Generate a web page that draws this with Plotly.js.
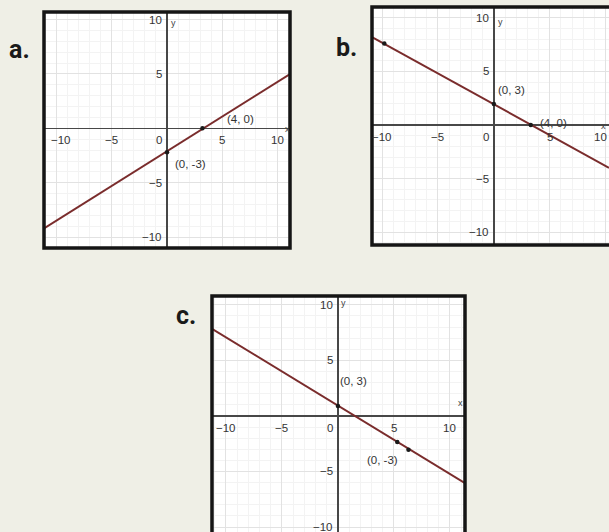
<!DOCTYPE html>
<html>
<head>
<meta charset="utf-8">
<script src="https://cdn.plot.ly/plotly-3.0.1.min.js"></script>
<style>
  html, body { margin: 0; padding: 0; background: #efefe6; }
  #chart { width: 609px; height: 532px; }
</style>
</head>
<body>
<div id="chart"></div>
<script>
// tick values shared by the three graphs
const xTicks = [-10, -5, 0, 5, 10]
const yTicks = [-10, -5, 5, 10]

// graph a
const lineAx = [-11.1, 11.1]
const lineAy = [-9.2, 5.0]
const dotsAx = [0, 3.2]
const dotsAy = [-2.2, 0]
const labelsA = ["(4, 0)", "(0, -3)"]
const labelsAx = [6.6, 2.1]
const labelsAy = [0.85, -3.25]

// graph b
const lineBx = [-10.9, 10.3]
const lineBy = [8.2, -4.0]
const dotsBx = [-9.8, 0, 3.3]
const dotsBy = [7.6, 1.95, 0]
const labelsB = ["(0, 3)", "(4, 0)"]
const labelsBx = [1.6, 5.3]
const labelsBy = [3.25, 0.2]

// graph c
const lineCx = [-11.25, 11.35]
const lineCy = [7.85, -6.05]
const dotsCx = [0, 5.3, 6.3]
const dotsCy = [0.9, -2.35, -3.05]
const labelsC = ["(0, 3)", "(0, -3)"]
const labelsCx = [1.35, 3.95]
const labelsCy = [3.15, -3.95]

const W = 609
const H = 532
const lineColor = "#7a2c2c"

// plot boxes in pixels: [left, right, top, bottom] and the data ranges inside them
const panels = [
  { box: [44, 290, 12, 248], xr: [-11.1, 11.1], yr: [-11.0, 10.7] },
  { box: [372, 616, 7, 245], xr: [-10.9, 10.3], yr: [-11.2, 11.0] },
  { box: [212, 465, 296, 537], xr: [-11.25, 11.35], yr: [-10.45, 10.8] },
]

const px = (x) => x / W
const py = (y) => 1 - y / H

function tickFont() {
  return { family: "Liberation Sans, Arial, sans-serif", size: 11.5, color: "#333333" }
}

function axis(range, domain, anchor) {
  return {
    range: range,
    domain: domain,
    anchor: anchor,
    tick0: 0,
    dtick: 5,
    showgrid: true,
    gridcolor: "#e2e2e2",
    gridwidth: 1,
    minor: { dtick: 1, showgrid: true, gridcolor: "#f3f3f3", gridwidth: 1 },
    zeroline: true,
    zerolinecolor: "#484848",
    zerolinewidth: 1.5,
    showticklabels: false,
    ticks: "",
    showline: false,
    fixedrange: true,
  }
}

const layout = {
  width: W,
  height: H,
  margin: { l: 0, r: 0, t: 0, b: 0 },
  paper_bgcolor: "#efefe6",
  plot_bgcolor: "#ffffff",
  showlegend: false,
  shapes: [],
  annotations: [],
}

panels.forEach((p, i) => {
  const n = i === 0 ? "" : String(i + 1)
  const [l, r, t, b] = p.box
  const xd = [px(l), Math.min(1, px(r))]
  const yd = [Math.max(0, py(b)), py(t)]
  layout["xaxis" + n] = axis(p.xr, xd, "y" + n)
  layout["yaxis" + n] = axis(p.yr, yd, "x" + n)

  // thick black frame
  layout.shapes.push({
    type: "rect", xref: "paper", yref: "paper",
    x0: px(l), x1: px(r), y0: py(b), y1: py(t),
    line: { color: "#151515", width: 3.5 }, layer: "above",
  })

  // tick labels sitting along the axes
  xTicks.forEach((v) => {
    let shift = 0
    if (v === 0) shift = -8
    if (v === -10 && i === 0) shift = 5
    if (v === 10 && i === 1) shift = -5 // keep it inside the picture
    layout.annotations.push({
      xref: "x" + n, yref: "y" + n, x: v, y: 0, text: String(v).replace("-", "−"),
      showarrow: false, yshift: -12, xshift: shift,
      font: tickFont(),
    })
  })
  yTicks.forEach((v) => {
    layout.annotations.push({
      xref: "x" + n, yref: "y" + n, x: 0, y: v, text: String(v).replace("-", "−"),
      showarrow: false, xanchor: "right", xshift: -3,
      font: tickFont(),
    })
  })
})

// axis name letters and panel letters (pixel positions)
const letterFont = { family: "Liberation Sans Narrow, Roboto, Arial, sans-serif", size: 25, color: "#1a1a1a", weight: "bold" }
const nameFont = { family: "Liberation Sans, Arial, sans-serif", size: 9, color: "#444" }
const paperText = [
  ["a.", 7, 33, letterFont, "left"], ["b.", 334, 31, letterFont, "left"], ["c.", 174, 315, letterFont, "left"],
  ["y", 173, 16, nameFont, "center"], ["x", 287, 122, nameFont, "center"],
  ["y", 500, 15, nameFont, "center"], ["x", 603, 119, nameFont, "center"],
  ["y", 343, 303, nameFont, "center"], ["x", 460, 410, nameFont, "center"],
]
paperText.forEach(([txt, x, y, f, anchor]) => {
  layout.annotations.push({
    xref: "paper", yref: "paper", x: px(x), y: py(y), text: txt,
    xanchor: anchor, showarrow: false, font: Object.assign({}, f),
  })
})

function pointLabels(texts, xs, ys, n) {
  texts.forEach((t, k) => {
    layout.annotations.push({
      xref: "x" + n, yref: "y" + n, x: xs[k], y: ys[k], text: t,
      showarrow: false, font: tickFont(),
    })
  })
}
pointLabels(labelsA, labelsAx, labelsAy, "")
pointLabels(labelsB, labelsBx, labelsBy, "2")
pointLabels(labelsC, labelsCx, labelsCy, "3")

function lineTrace(x, y, n) {
  return {
    x: x, y: y, xaxis: "x" + n, yaxis: "y" + n, type: "scatter", mode: "lines",
    line: { color: lineColor, width: 2 }, hoverinfo: "skip",
  }
}
function dotTrace(x, y, n) {
  return {
    x: x, y: y, xaxis: "x" + n, yaxis: "y" + n, type: "scatter", mode: "markers",
    marker: { color: "#1a1a1a", size: 4.5 }, hoverinfo: "skip",
  }
}

const data = [
  lineTrace(lineAx, lineAy, ""), dotTrace(dotsAx, dotsAy, ""),
  lineTrace(lineBx, lineBy, "2"), dotTrace(dotsBx, dotsBy, "2"),
  lineTrace(lineCx, lineCy, "3"), dotTrace(dotsCx, dotsCy, "3"),
]

Plotly.newPlot("chart", data, layout, { displayModeBar: false, staticPlot: true })
</script>
</body>
</html>
